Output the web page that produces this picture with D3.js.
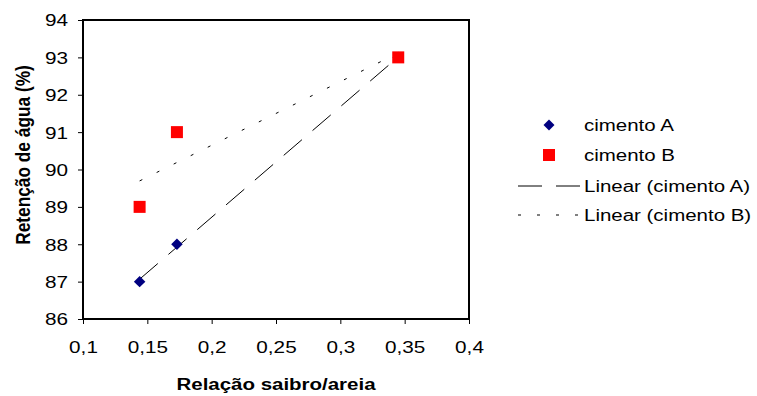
<!DOCTYPE html>
<html>
<head>
<meta charset="utf-8">
<script src="https://cdn.jsdelivr.net/npm/d3@7"></script>
<style>
  html, body { margin: 0; padding: 0; background: #fff; }
  svg { display: block; font-family: "Liberation Sans", Arial, sans-serif; }
</style>
</head>
<body>
<svg id="chart" width="757" height="396"></svg>
<script>
// Relação saibro/areia for each mix
const ratios = [0.144, 0.173, 0.345];
// Retenção de água (%) per cement
const cimentoA = [87, 88, 93];
const cimentoB = [89, 91, 93];
const xTicks = [0.1, 0.15, 0.2, 0.25, 0.3, 0.35, 0.4];
const yTicks = [86, 87, 88, 89, 90, 91, 92, 93, 94];
const seriesNames = ["cimento A", "cimento B", "Linear (cimento A)", "Linear (cimento B)"];

const svg = d3.select("#chart");
const plot = { left: 83, right: 469, top: 20, bottom: 319 };

const x = d3.scaleLinear().domain([0.1, 0.4]).range([plot.left, plot.right]);
const y = d3.scaleLinear().domain([86, 94]).range([plot.bottom, plot.top]);

const fmt = d => String(d).replace(".", ",");
const wide = 1.22; // horizontal widening of the lettering

// Axes
const xAxis = svg.append("g")
  .attr("transform", `translate(0,${plot.bottom})`)
  .call(d3.axisBottom(x).tickValues(xTicks).tickFormat(fmt).tickSize(5).tickSizeOuter(0));
const yAxis = svg.append("g")
  .attr("transform", `translate(${plot.left},0)`)
  .call(d3.axisLeft(y).tickValues(yTicks).tickFormat(d => d).tickSize(5).tickSizeOuter(0));

[xAxis, yAxis].forEach(g => {
  g.select(".domain").remove();
  g.selectAll("line").attr("stroke", "#000").attr("stroke-width", 1);
  g.selectAll("text").attr("font-size", 17).attr("fill", "#000")
    .attr("font-family", "'Liberation Sans', Arial, sans-serif");
});
xAxis.selectAll("text")
  .attr("x", 0).attr("y", 0).attr("dy", 0)
  .attr("transform", `translate(0,34) scale(${wide},1)`);
yAxis.selectAll("text")
  .attr("x", 0).attr("dy", "0.35em")
  .attr("transform", `translate(-15,0) scale(${wide},1)`);

// Plot frame
svg.append("rect")
  .attr("x", plot.left).attr("y", plot.top)
  .attr("width", plot.right - plot.left).attr("height", plot.bottom - plot.top)
  .attr("fill", "none").attr("stroke", "#000").attr("stroke-width", 2);

// Least-squares trend line over the observed x range
function trend(xs, ys) {
  const n = xs.length;
  const mx = d3.mean(xs), my = d3.mean(ys);
  let sxy = 0, sxx = 0;
  for (let i = 0; i < n; i++) { sxy += (xs[i] - mx) * (ys[i] - my); sxx += (xs[i] - mx) ** 2; }
  const b = sxy / sxx, a = my - b * mx;
  const [x0, x1] = d3.extent(xs);
  return [[x0, a + b * x0], [x1, a + b * x1]];
}

const line = d3.line().x(d => x(d[0])).y(d => y(d[1]));

svg.append("path")
  .attr("d", line(trend(ratios, cimentoA)))
  .attr("fill", "none").attr("stroke", "#000").attr("stroke-width", 1)
  .attr("stroke-dasharray", "24,14");

svg.append("path")
  .attr("d", line(trend(ratios, cimentoB)))
  .attr("fill", "none").attr("stroke", "#000").attr("stroke-width", 1)
  .attr("stroke-dasharray", "3,16");

// Markers
const diamond = d3.symbol().type(d3.symbolSquare).size(66);
svg.append("g").selectAll("path")
  .data(ratios.map((r, i) => [r, cimentoA[i]]))
  .join("path")
  .attr("d", diamond)
  .attr("transform", d => `translate(${x(d[0])},${y(d[1])}) rotate(45)`)
  .attr("fill", "#000080");

svg.append("g").selectAll("rect")
  .data(ratios.map((r, i) => [r, cimentoB[i]]))
  .join("rect")
  .attr("x", d => x(d[0]) - 6).attr("y", d => y(d[1]) - 6)
  .attr("width", 12).attr("height", 12)
  .attr("fill", "#ff0000");

// Axis titles
svg.append("text")
  .attr("transform", `translate(${(plot.left + plot.right) / 2},390) scale(1.28,1)`)
  .attr("text-anchor", "middle").attr("font-size", 16).attr("font-weight", "bold")
  .text("Relação saibro/areia");

svg.append("text")
  .attr("transform", `translate(30,155) rotate(-90) scale(1,1.12)`)
  .attr("text-anchor", "middle").attr("font-size", 17.3).attr("font-weight", "bold")
  .text("Retenção de água (%)");

// Legend
const legend = svg.append("g");
const ly = [125, 155, 186, 215];
legend.append("path")
  .attr("d", d3.symbol().type(d3.symbolSquare).size(60))
  .attr("transform", `translate(549,${ly[0]}) rotate(45)`)
  .attr("fill", "#000080");
legend.append("rect")
  .attr("x", 543).attr("y", ly[1] - 6).attr("width", 12).attr("height", 12)
  .attr("fill", "#ff0000");
legend.append("line")
  .attr("x1", 518).attr("x2", 580).attr("y1", ly[2]).attr("y2", ly[2])
  .attr("stroke", "#000").attr("stroke-dasharray", "24,14");
legend.append("line")
  .attr("x1", 518).attr("x2", 584).attr("y1", ly[3]).attr("y2", ly[3])
  .attr("stroke", "#000").attr("stroke-dasharray", "3,16");

legend.selectAll("text")
  .data(seriesNames)
  .join("text")
  .attr("transform", (d, i) => `translate(584,${ly[i]}) scale(1.28,1)`)
  .attr("dy", "0.35em")
  .attr("font-size", 16)
  .text(d => d);
</script>
</body>
</html>
